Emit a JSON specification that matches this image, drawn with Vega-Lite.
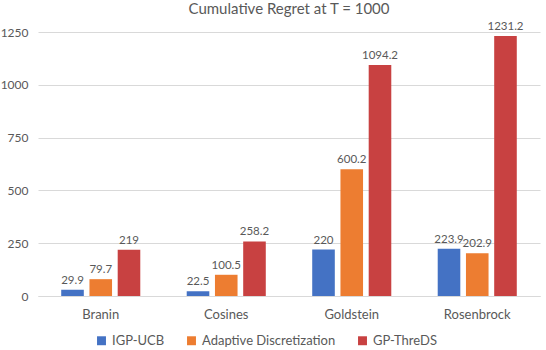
{
  "$schema": "https://vega.github.io/schema/vega-lite/v6.json",
  "width": 502,
  "height": 264,
  "autosize": {"type": "none"},
  "padding": {"left": 38, "top": 32, "right": 6, "bottom": 54},
  "title": {"text": "Cumulative Regret at T = 1000", "font": "Lato", "fontSize": 15, "fontWeight": "normal", "color": "#595959", "offset": 4},
  "config": {"view": {"stroke": null}, "font": "Lato"},
  "data": {"values": [
    {"func": "Branin", "method": "IGP-UCB", "regret": 29.9},
    {"func": "Branin", "method": "Adaptive Discretization", "regret": 79.7},
    {"func": "Branin", "method": "GP-ThreDS", "regret": 219},
    {"func": "Cosines", "method": "IGP-UCB", "regret": 22.5},
    {"func": "Cosines", "method": "Adaptive Discretization", "regret": 100.5},
    {"func": "Cosines", "method": "GP-ThreDS", "regret": 258.2},
    {"func": "Goldstein", "method": "IGP-UCB", "regret": 220},
    {"func": "Goldstein", "method": "Adaptive Discretization", "regret": 600.2},
    {"func": "Goldstein", "method": "GP-ThreDS", "regret": 1094.2},
    {"func": "Rosenbrock", "method": "IGP-UCB", "regret": 223.9},
    {"func": "Rosenbrock", "method": "Adaptive Discretization", "regret": 202.9},
    {"func": "Rosenbrock", "method": "GP-ThreDS", "regret": 1231.2}
  ]},
  "encoding": {
    "x": {"field": "func", "type": "nominal", "sort": ["Branin", "Cosines", "Goldstein", "Rosenbrock"],
      "scale": {"paddingInner": 0.37, "paddingOuter": 0.185},
      "axis": {"title": null, "labelAngle": 0, "ticks": false, "domainColor": "#D9D9D9", "labelFont": "Lato", "labelFontSize": 13, "labelColor": "#595959", "labelPadding": 12}},
    "xOffset": {"field": "method", "type": "nominal", "sort": ["IGP-UCB", "Adaptive Discretization", "GP-ThreDS"], "scale": {"paddingInner": 0.2, "paddingOuter": 0}},
    "y": {"field": "regret", "type": "quantitative", "scale": {"domain": [0, 1250], "nice": false},
      "axis": {"title": null, "values": [0, 250, 500, 750, 1000, 1250], "format": "d", "domain": false, "ticks": false, "gridColor": "#D9D9D9", "labelFont": "Lato", "labelFontSize": 12, "labelColor": "#595959", "labelPadding": 10}}
  },
  "layer": [
    {"mark": {"type": "bar"},
     "encoding": {"color": {"field": "method", "type": "nominal", "sort": ["IGP-UCB", "Adaptive Discretization", "GP-ThreDS"],
       "scale": {"domain": ["IGP-UCB", "Adaptive Discretization", "GP-ThreDS"], "range": ["#4472C4", "#ED7D31", "#C84141"]},
       "legend": {"title": null, "orient": "none", "legendX": 57, "legendY": 302, "direction": "horizontal", "symbolType": "square", "symbolSize": 80, "symbolStrokeWidth": 0, "labelFont": "Lato", "labelFontSize": 13, "labelColor": "#595959", "columnPadding": 20}}}},
    {"mark": {"type": "text", "dy": -9, "font": "Lato", "fontSize": 11.5, "color": "#595959"},
     "encoding": {"text": {"field": "regret", "type": "quantitative"}}}
  ]
}
